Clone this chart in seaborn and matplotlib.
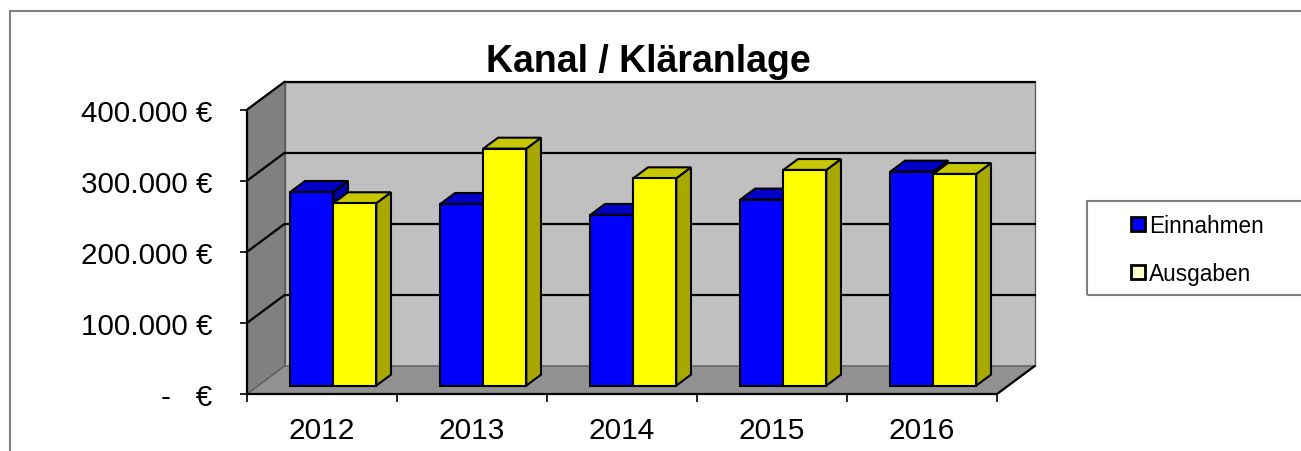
import numpy as np
import pandas as pd
import seaborn as sns
import matplotlib.pyplot as plt
from matplotlib.patches import Polygon, Rectangle
from matplotlib.lines import Line2D

# Werte
jahre = ['2012', '2013', '2014', '2015', '2016']
einnahmen = [272500, 255600, 240200, 261800, 301100]
ausgaben = [256600, 333400, 291700, 303400, 297800]
serien = ['Einnahmen', 'Ausgaben']
farben = ['#0000FF', '#FFFF00']
legenden_farben = ['#0000FF', '#FFFFCC']
y_ticks = [0, 100000, 200000, 300000, 400000]
y_labels = ['-   €', '100.000 €', '200.000 €', '300.000 €', '400.000 €']

df = pd.DataFrame({
    'Jahr': jahre * 2,
    'Betrag': einnahmen + ausgaben,
    'Art': [serien[0]] * len(jahre) + [serien[1]] * len(jahre),
})

sns.set_style('white')
plt.rcParams['font.family'] = ['Liberation Sans', 'DejaVu Sans']
plt.rcParams.update({'text.color': 'black', 'axes.labelcolor': 'black',
                     'xtick.color': 'black', 'ytick.color': 'black'})

W, H = 1301, 452
# Geometrie in Pixeln (Schraegprojektion wie im Excel-3D-Diagramm)
X0, Y0 = 247, 395           # vordere linke untere Ecke
CAT_PX = 150                # Breite einer Kategorie
VAL_PX = 0.7108 / 1000      # Pixel pro Euro
DEP_X, DEP_Y = 37.7, 28.0   # Tiefe der Bodenplatte

DX = DEP_X / CAT_PX
DY = DEP_Y / VAL_PX
ymax = y_ticks[-1] + DY
xmin, xmax = -0.5, len(jahre) - 0.5 + DX

ax_w = (xmax - xmin) * CAT_PX
ax_h = ymax * VAL_PX

fig = plt.figure(figsize=(W / 100, H / 100), dpi=100)
ax = fig.add_axes([X0 / W, (H - Y0) / H, ax_w / W, ax_h / H])

sns.barplot(data=df, x='Jahr', y='Betrag', hue='Art', palette=farben,
            saturation=1, width=0.573, edgecolor='black', linewidth=1.5,
            legend=False, ax=ax)

bars = sorted(ax.patches, key=lambda p: p.get_x())

# Waende und Boden
last = len(jahre) - 0.5
wand_kante = '#606060'
ax.add_patch(Polygon([(xmin, 0), (xmin + DX, DY), (xmin + DX, ymax), (xmin, y_ticks[-1])],
                     closed=True, facecolor='#808080', edgecolor=wand_kante, lw=1, zorder=0.5))
ax.add_patch(Rectangle((xmin + DX, DY), last - xmin, y_ticks[-1], facecolor='#C0C0C0',
                       edgecolor=wand_kante, lw=1, zorder=0.4, clip_on=False))
ax.add_patch(Polygon([(xmin, 0), (last, 0), (last + DX, DY), (xmin + DX, DY)],
                     closed=True, facecolor='#919191', edgecolor=wand_kante, lw=1, zorder=0.6))

for v in y_ticks[1:]:
    ax.plot([xmin + DX, last + DX], [v + DY, v + DY], color='black', lw=1.6, zorder=1, clip_on=False)
    ax.plot([xmin, xmin + DX], [v, v + DY], color='black', lw=1.6, zorder=1, clip_on=False)
ax.plot([last, last + DX], [0, DY], color='black', lw=1.6, zorder=1, clip_on=False)

# 3D-Saeulen: Vorderseite verschieben, Deckel und Seite ergaenzen
start, tiefe = 0.3, 0.39
bdx, bdy = tiefe * DX, tiefe * DY
for i, p in enumerate(bars):
    z = 3 + i * 0.1
    x, w, h = p.get_x() + start * DX, p.get_width(), p.get_height()
    y0 = start * DY
    p.set_x(x)
    p.set_y(y0)
    p.set_zorder(z + 0.05)
    fc = np.array(p.get_facecolor()[:3])
    seite = Polygon([(x + w, y0), (x + w + bdx, y0 + bdy), (x + w + bdx, y0 + h + bdy), (x + w, y0 + h)],
                    closed=True, facecolor=fc * 0.66, edgecolor='black', lw=1.5, zorder=z)
    deckel = Polygon([(x, y0 + h), (x + bdx, y0 + h + bdy), (x + w + bdx, y0 + h + bdy), (x + w, y0 + h)],
                     closed=True, facecolor=fc * 0.78, edgecolor='black', lw=1.5, zorder=z)
    ax.add_patch(seite)
    ax.add_patch(deckel)

ax.set_xlim(xmin, xmax)
ax.set_ylim(0, ymax)
for s in ['top', 'right']:
    ax.spines[s].set_visible(False)
ax.spines['left'].set_bounds(0, y_ticks[-1])
ax.spines['bottom'].set_bounds(xmin, last)
for s in ['left', 'bottom']:
    ax.spines[s].set_color('black')
    ax.spines[s].set_linewidth(1.6)
    ax.spines[s].set_zorder(2)

ax.set_yticks(y_ticks, y_labels)
ax.set_xticks(range(len(jahre)), jahre)
ax.set_xticks(np.arange(-0.5, len(jahre)), minor=True)
ax.tick_params(axis='y', left=True, length=5, width=1.2, color='black', pad=20, labelsize=21.3)
ax.tick_params(axis='x', which='major', bottom=True, length=0, pad=16, labelsize=21.5)
ax.tick_params(axis='x', which='minor', bottom=True, length=6, width=1.2, color='black')
ax.set_xlabel('')
ax.set_ylabel('')
ax.patch.set_visible(False)

fig.text(648.5 / W, (H - 72) / H, 'Kanal / Kläranlage', ha='center', va='baseline',
         fontsize=27, fontweight='bold', color='black')

# Rahmen des Diagrammbereichs
fig.add_artist(Line2D([9.5 / W, 1], [(H - 12) / H] * 2, color='#808080', lw=1.5))
fig.add_artist(Line2D([9.5 / W] * 2, [0, (H - 12) / H], color='#808080', lw=1.5))

# Legende
fig.add_artist(Rectangle((1087 / W, (H - 296) / H), (1320 - 1087) / W, 94 / H,
                         transform=fig.transFigure, fill=False, edgecolor='#808080', lw=1.5))
handles = [Rectangle((0, 0), 1, 1, facecolor=c, edgecolor='black', lw=2) for c in legenden_farben]
fig.legend(handles, serien, loc='center left', bbox_to_anchor=(1131 / W, (H - 250.5) / H),
           frameon=False, fontsize=16.3, handlelength=0.6, handleheight=0.6,
           handletextpad=0.2, labelspacing=1.1, borderpad=0, borderaxespad=0)

fig.savefig('out.png', dpi=100)
